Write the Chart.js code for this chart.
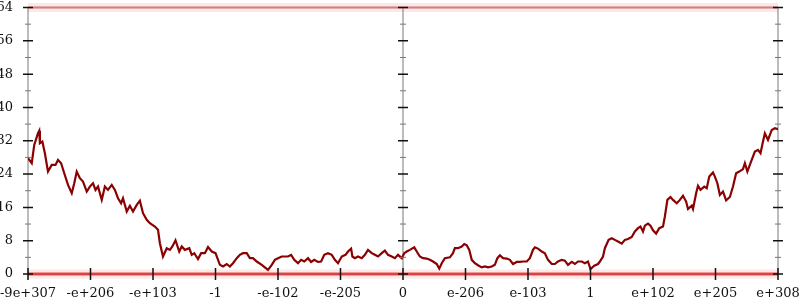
<!DOCTYPE html>
<html>
<head>
<meta charset="utf-8">
<script src="https://cdn.jsdelivr.net/npm/chart.js@4/dist/chart.umd.min.js"></script>
<style>
  html, body { margin: 0; padding: 0; background: #fff; }
  #wrap { width: 800px; height: 300px; }
</style>
</head>
<body>
<div id="wrap"><canvas id="plot"></canvas></div>
<script>
// x axis is evenly spaced: one unit per labelled tick, 0 in the middle
const X_LABELS = ['-9e+307', '-e+206', '-e+103', '-1', '-e-102', '-e-205', '0',
                  'e-206', 'e-103', '1', 'e+102', 'e+205', 'e+308'];
const X_TICKS = [-6, -5, -4, -3, -2, -1, 0, 1, 2, 3, 4, 5, 6];
const Y_TICKS = [0, 8, 16, 24, 32, 40, 48, 56, 64];
const Y_MINOR = [4, 12, 20, 28, 36, 44, 52, 60];
const BAND_Y = [0, 64];

// the walk
const WALK_X = [
  -6.00, -5.94, -5.90, -5.84, -5.82, -5.81, -5.77, -5.73, -5.68, -5.62, -5.56, -5.52, -5.47, -5.42,
  -5.36, -5.30, -5.26, -5.22, -5.17, -5.12, -5.06, -5.01, -4.96, -4.92, -4.88, -4.82, -4.77, -4.72,
  -4.66, -4.61, -4.56, -4.51, -4.48, -4.42, -4.37, -4.32, -4.26, -4.21, -4.16, -4.10, -4.05, -3.97,
  -3.92, -3.89, -3.84, -3.78, -3.73, -3.69, -3.64, -3.58, -3.54, -3.49, -3.42, -3.38, -3.34, -3.28,
  -3.23, -3.17, -3.12, -3.06, -3.00, -2.93, -2.88, -2.82, -2.77, -2.72, -2.66, -2.61, -2.56, -2.50,
  -2.45, -2.40, -2.34, -2.26, -2.21, -2.16, -2.10, -2.05, -2.00, -1.94, -1.89, -1.84, -1.79, -1.74,
  -1.68, -1.63, -1.58, -1.52, -1.47, -1.42, -1.36, -1.31, -1.26, -1.20, -1.14, -1.09, -1.04, -0.98,
  -0.92, -0.88, -0.83, -0.81, -0.77, -0.72, -0.66, -0.61, -0.56, -0.50, -0.45, -0.40, -0.34, -0.29,
  -0.24, -0.18, -0.13, -0.08, -0.02, 0.02, 0.06, 0.11, 0.18, 0.22, 0.27, 0.32, 0.38, 0.43,
  0.48, 0.54, 0.58, 0.62, 0.67, 0.75, 0.80, 0.83, 0.88, 0.94, 0.98, 1.02, 1.06, 1.10,
  1.15, 1.20, 1.26, 1.31, 1.36, 1.42, 1.47, 1.51, 1.55, 1.60, 1.66, 1.71, 1.76, 1.82,
  1.87, 1.92, 1.98, 2.03, 2.08, 2.11, 2.16, 2.22, 2.27, 2.32, 2.38, 2.43, 2.48, 2.54,
  2.59, 2.64, 2.70, 2.75, 2.80, 2.86, 2.91, 2.96, 3.00, 3.06, 3.12, 3.15, 3.20, 3.23,
  3.29, 3.34, 3.39, 3.44, 3.50, 3.55, 3.60, 3.66, 3.71, 3.76, 3.80, 3.84, 3.87, 3.92,
  3.96, 4.00, 4.05, 4.10, 4.16, 4.19, 4.23, 4.28, 4.32, 4.38, 4.43, 4.48, 4.53, 4.56,
  4.62, 4.64, 4.69, 4.72, 4.76, 4.82, 4.86, 4.90, 4.96, 4.99, 5.03, 5.07, 5.12, 5.17,
  5.23, 5.28, 5.33, 5.38, 5.44, 5.47, 5.51, 5.56, 5.63, 5.68, 5.72, 5.76, 5.79, 5.84,
  5.90, 5.95, 6.00
];
const WALK_Y = [
  27.8, 26.6, 31.0, 33.8, 34.4, 31.4, 31.8, 29.0, 24.6, 26.2, 26.2, 27.4, 26.6, 24.2,
  21.4, 19.4, 21.8, 24.6, 23.0, 22.2, 19.8, 21.0, 21.8, 20.2, 21.0, 17.8, 21.0, 20.2,
  21.4, 20.2, 18.2, 17.0, 18.2, 15.0, 16.4, 15.0, 16.6, 17.6, 14.6, 13.0, 12.2, 11.4,
  10.6, 7.4, 4.2, 6.2, 5.8, 6.6, 8.1, 5.4, 6.6, 5.8, 6.2, 4.6, 5.0, 3.6,
  5.0, 5.0, 6.5, 5.4, 5.0, 2.2, 1.8, 2.4, 1.8, 2.6, 3.8, 4.6, 5.0, 5.0,
  3.8, 3.8, 3.0, 2.2, 1.6, 1.0, 2.2, 3.4, 3.8, 4.2, 4.2, 4.2, 4.6, 3.4,
  2.6, 3.4, 3.0, 3.8, 2.9, 3.4, 2.9, 3.0, 4.6, 5.0, 4.6, 3.4, 2.6, 4.2,
  4.6, 5.4, 6.1, 4.2, 3.8, 4.2, 3.8, 4.6, 5.8, 5.0, 4.6, 4.2, 5.0, 5.6,
  4.6, 4.2, 3.8, 4.6, 3.8, 5.0, 5.4, 5.8, 6.4, 5.4, 4.2, 3.8, 3.7, 3.4,
  3.0, 2.4, 1.3, 2.6, 3.8, 4.0, 5.0, 6.2, 6.2, 6.6, 7.2, 6.9, 5.8, 3.4,
  2.6, 2.1, 1.6, 1.8, 1.6, 1.8, 2.2, 3.8, 4.5, 3.8, 3.7, 3.4, 2.4, 2.9,
  2.9, 3.0, 3.0, 3.8, 5.8, 6.4, 6.1, 5.4, 5.0, 3.4, 2.4, 2.4, 3.0, 3.4,
  3.2, 2.2, 2.9, 2.4, 3.0, 3.0, 2.6, 3.0, 1.2, 2.0, 2.4, 3.0, 4.2, 6.2,
  8.2, 8.6, 8.2, 7.8, 7.3, 8.2, 8.4, 8.9, 10.2, 11.0, 11.4, 10.2, 11.6, 12.1,
  11.6, 10.5, 9.7, 11.0, 11.4, 13.8, 17.8, 18.5, 17.8, 17.0, 17.8, 18.8, 17.4, 15.6,
  16.4, 15.6, 19.4, 21.2, 20.2, 21.0, 20.6, 23.4, 24.4, 23.4, 21.8, 19.0, 19.8, 17.7,
  18.5, 21.0, 24.2, 24.6, 25.2, 26.6, 24.6, 26.6, 29.4, 29.8, 29.0, 31.8, 33.8, 32.2,
  34.6, 35.0, 34.8
];

const FONT = { family: 'DejaVu Serif', size: 13 };

// grey axis frame behind the data, black tick marks on top
const axisFrame = {
  id: 'axisFrame',
  beforeDatasetsDraw(chart) {
    const { ctx, chartArea: a, scales: { x } } = chart;
    ctx.save();
    ctx.strokeStyle = '#bcbcbc';
    ctx.lineWidth = 2;
    ctx.beginPath();
    [x.min, 0, x.max].forEach(v => {
      const px = x.getPixelForValue(v);
      ctx.moveTo(px, a.top); ctx.lineTo(px, a.bottom);
    });
    ctx.moveTo(a.left, a.top); ctx.lineTo(a.right, a.top);
    ctx.moveTo(a.left, a.bottom); ctx.lineTo(a.right, a.bottom);
    ctx.stroke();
    ctx.restore();
  },
  afterDatasetsDraw(chart) {
    const { ctx, chartArea: a, scales: { x, y } } = chart;
    ctx.save();
    [x.min, 0, x.max].forEach(v => {
      const px = x.getPixelForValue(v);
      ctx.strokeStyle = '#111';
      ctx.lineWidth = 1.5;
      ctx.beginPath();
      Y_TICKS.forEach(t => {
        const py = y.getPixelForValue(t);
        ctx.moveTo(px - 5, py); ctx.lineTo(px + 5, py);
      });
      ctx.stroke();
      ctx.strokeStyle = '#777';
      ctx.lineWidth = 1;
      ctx.beginPath();
      Y_MINOR.forEach(t => {
        const py = y.getPixelForValue(t);
        ctx.moveTo(px - 3, py); ctx.lineTo(px + 3, py);
      });
      ctx.stroke();
    });
    ctx.strokeStyle = '#111';
    ctx.lineWidth = 1.5;
    ctx.beginPath();
    X_TICKS.forEach(t => {
      const px = x.getPixelForValue(t);
      ctx.moveTo(px, a.bottom - 6); ctx.lineTo(px, a.bottom + 6);
    });
    ctx.stroke();
    ctx.restore();
  }
};

// bottom band is solid, top band is only a faint smear under the frame
const bandSets = [];
BAND_Y.forEach((b, i) => {
  const ends = [{ x: X_TICKS[0], y: b }, { x: X_TICKS[X_TICKS.length - 1], y: b }];
  bandSets.push({
    data: ends, borderColor: 'rgba(240,70,70,0.13)', borderWidth: 9, pointRadius: 0, clip: false
  });
  bandSets.push({
    data: ends,
    borderColor: i === 0 ? 'rgba(225,35,35,0.8)' : 'rgba(230,60,60,0.4)',
    borderWidth: i === 0 ? 3 : 2, pointRadius: 0, clip: false
  });
});

new Chart(document.getElementById('plot'), {
  type: 'line',
  data: {
    datasets: [
      ...bandSets,
      {
        data: WALK_X.map((v, i) => ({ x: v, y: WALK_Y[i] })),
        borderColor: '#8b0000',
        borderWidth: 2.2,
        pointRadius: 0,
        tension: 0
      }
    ]
  },
  options: {
    responsive: true,
    maintainAspectRatio: false,
    animation: false,
    layout: { padding: { top: 7.5, right: 22, left: 0, bottom: 0 } },
    plugins: { legend: { display: false }, tooltip: { enabled: false } },
    scales: {
      x: {
        type: 'linear',
        min: -6, max: 6,
        afterBuildTicks: s => { s.ticks = X_TICKS.map(v => ({ value: v })); },
        afterFit: s => { s.height = 26; s.paddingLeft = 0; s.paddingRight = 0; },
        grid: { display: false },
        border: { display: false },
        ticks: {
          autoSkip: false, maxRotation: 0, padding: 4,
          color: '#111', font: FONT,
          callback: (v, i) => X_LABELS[i]
        }
      },
      y: {
        min: 0, max: 64,
        afterBuildTicks: s => { s.ticks = Y_TICKS.map(v => ({ value: v })); },
        afterFit: s => { s.width = 28; s.paddingTop = 0; s.paddingBottom = 0; },
        grid: { display: false },
        border: { display: false },
        ticks: { padding: 7, color: '#111', font: FONT }
      }
    }
  },
  plugins: [axisFrame]
});
</script>
</body>
</html>
